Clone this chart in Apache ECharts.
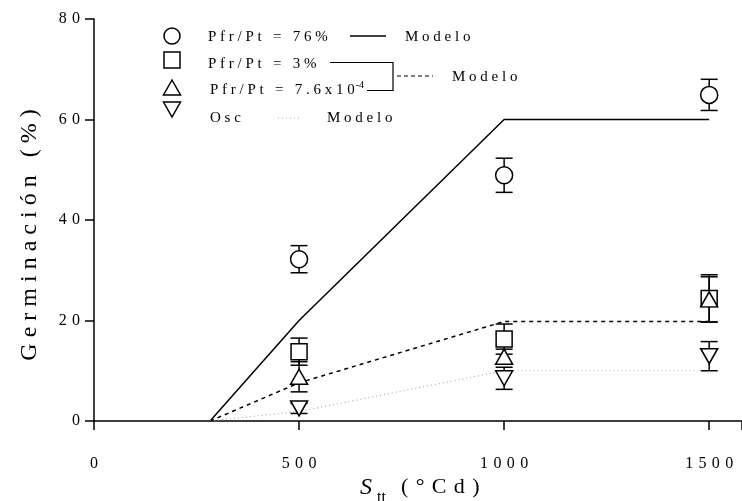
<!DOCTYPE html>
<html>
<head>
<meta charset="utf-8">
<script src="https://cdn.jsdelivr.net/npm/echarts@6/dist/echarts.min.js"></script>
<style>
html, body { margin: 0; padding: 0; background: #fff; }
#main { width: 742px; height: 501px; }
</style>
</head>
<body>
<div id="main"></div>
<script>
// valores
const sttVals = [500, 1000, 1500];
const xTicks = [0, 500, 1000, 1500];
const yTicks = [0, 20, 40, 60, 80];

const pfr76 = [32.2, 48.9, 64.9];
const pfr76Err = [2.7, 3.4, 3.1];
const pfr3 = [13.8, 16.3, 24.4];
const pfr3Err = [2.7, 3.0, 4.7];
const pfr76e4 = [8.8, 12.8, 24.2];
const pfr76e4Err = [3.0, 1.5, 4.5];
const osc = [2.5, 8.5, 12.9];
const oscErr = [1.0, 2.2, 2.9];

// modelos
const modeloX = [283, 500, 1000, 1500];
const modelo76 = [0, 20, 60, 60];
const modeloBajo = [0, 7.6, 19.8, 19.8];
const modeloOsc = [0, 1.9, 10, 10];

const serif = 'Liberation Serif';
const spaced = (s, gap) => s.split('').join(gap || '\u2005');

function pts(ys) { return ys.map((y, i) => [sttVals[i], y]); }
function errs(ys, es) { return ys.map((y, i) => [sttVals[i], y - es[i], y + es[i]]); }
function modelo(ys) { return ys.map((y, i) => [modeloX[i], y]); }

// barras de error
function errorBar(params, api) {
    const lo = api.coord([api.value(0), api.value(1)]);
    const hi = api.coord([api.value(0), api.value(2)]);
    const w = 8.5;
    const st = { stroke: '#000', lineWidth: 1.5 };
    return {
        type: 'group',
        children: [
            { type: 'line', shape: { x1: lo[0], y1: lo[1], x2: hi[0], y2: hi[1] }, style: st },
            { type: 'line', shape: { x1: lo[0] - w, y1: lo[1], x2: lo[0] + w, y2: lo[1] }, style: st },
            { type: 'line', shape: { x1: hi[0] - w, y1: hi[1], x2: hi[0] + w, y2: hi[1] }, style: st }
        ]
    };
}

function errSeries(ys, es) {
    return { type: 'custom', renderItem: errorBar, data: errs(ys, es), z: 3, silent: true };
}

function markSeries(ys, symbol, size, rot) {
    return {
        type: 'scatter', data: pts(ys), symbol: symbol, symbolSize: size, symbolRotate: rot || 0,
        itemStyle: { color: '#fff', borderColor: '#000', borderWidth: 1.5, opacity: 1 },
        z: 5, silent: true
    };
}

function lineSeries(ys, lineStyle) {
    return { type: 'line', data: modelo(ys), showSymbol: false, lineStyle: lineStyle, z: 2, silent: true };
}

const legendFont = '15px ' + serif;
const txt = (x, y, text, font, extra) => Object.assign({
    type: 'text', x: x, y: y,
    style: { text: text, font: font || legendFont, fill: '#000', verticalAlign: 'middle' }
}, extra || {});
const sym = { fill: '#fff', stroke: '#000', lineWidth: 1.5 };

const chart = echarts.init(document.getElementById('main'));
chart.setOption({
    animation: false,
    grid: { left: 94, right: 0, top: 19, bottom: 80, outerBoundsMode: 'none' },
    xAxis: {
        type: 'value', min: 0, max: 1580, interval: 500,
        axisLine: { lineStyle: { color: '#000', width: 1.5 } },
        axisTick: { inside: false, length: 9, lineStyle: { color: '#000', width: 1.5 } },
        splitLine: { show: false },
        axisLabel: {
            margin: 35, color: '#000', fontFamily: serif, fontSize: 16,
            formatter: v => xTicks.includes(v) ? spaced(String(v), '\u2004') : ''
        }
    },
    yAxis: {
        type: 'value', min: 0, max: 80, interval: 20,
        axisLine: { lineStyle: { color: '#000', width: 1.5 } },
        axisTick: { inside: false, length: 9, lineStyle: { color: '#000', width: 1.5 } },
        splitLine: { show: false },
        axisLabel: {
            margin: 14, color: '#000', fontFamily: serif, fontSize: 16,
            formatter: v => yTicks.includes(v) ? spaced(String(v), '\u2004') : ''
        }
    },
    series: [
        lineSeries(modelo76, { color: '#000', width: 1.5, type: 'solid' }),
        lineSeries(modeloBajo, { color: '#000', width: 1.5, type: [4, 4] }),
        lineSeries(modeloOsc, { color: '#aaa', width: 1.2, type: [1, 3] }),
        errSeries(pfr76, pfr76Err),
        errSeries(pfr3, pfr3Err),
        errSeries(pfr76e4, pfr76e4Err),
        errSeries(osc, oscErr),
        markSeries(pfr76, 'circle', 17),
        markSeries(pfr3, 'rect', 16),
        markSeries(pfr76e4, 'triangle', [17, 15]),
        markSeries(osc, 'triangle', [17, 15], 180)
    ],
    graphic: [
        // titulos de los ejes
        {
            type: 'text', x: 30, y: 235, rotation: Math.PI / 2,
            style: { text: spaced('Germinación (%)', '\u2005'), font: '24px ' + serif, fill: '#000', align: 'center', verticalAlign: 'middle' }
        },
        txt(360, 488, 'S', 'italic 24px ' + serif),
        txt(377, 498, 'tt', '16px ' + serif),
        txt(401, 487, spaced('(°Cd)', '\u2004'), '22px ' + serif),
        // simbolos de la leyenda
        { type: 'circle', shape: { cx: 172, cy: 36, r: 8 }, style: sym },
        { type: 'rect', shape: { x: 164, y: 52, width: 16, height: 16 }, style: sym },
        { type: 'polygon', shape: { points: [[172, 80], [180.5, 95], [163.5, 95]] }, style: sym },
        { type: 'polygon', shape: { points: [[163.5, 102], [180.5, 102], [172, 117]] }, style: sym },
        // textos
        txt(208, 37, spaced('Pfr/Pt = 76%')),
        txt(208, 64, spaced('Pfr/Pt = 3%')),
        {
            type: 'text', x: 210, y: 90,
            style: {
                text: '{a|' + spaced('Pfr/Pt = 7.6x10') + '}{b|-4}',
                verticalAlign: 'middle',
                rich: {
                    a: { font: legendFont, fill: '#000' },
                    b: { font: '10px ' + serif, fill: '#000', padding: [0, 0, 10, 1] }
                }
            }
        },
        txt(210, 118, spaced('Osc')),
        // modelos en la leyenda
        { type: 'line', shape: { x1: 350, y1: 36, x2: 386, y2: 36 }, style: { stroke: '#000', lineWidth: 1.5 } },
        txt(405, 37, spaced('Modelo')),
        { type: 'polyline', shape: { points: [[330, 62.5], [393, 62.5], [393, 90.5], [367, 90.5]] }, style: { stroke: '#000', lineWidth: 1.2, fill: null } },
        { type: 'line', shape: { x1: 397, y1: 76, x2: 433, y2: 76 }, style: { stroke: '#000', lineWidth: 1.2, lineDash: [4, 3] } },
        txt(452, 77, spaced('Modelo')),
        { type: 'line', shape: { x1: 278, y1: 118, x2: 302, y2: 118 }, style: { stroke: '#aaa', lineWidth: 1, lineDash: [1, 3] } },
        txt(327, 118, spaced('Modelo'))
    ]
});
</script>
</body>
</html>
